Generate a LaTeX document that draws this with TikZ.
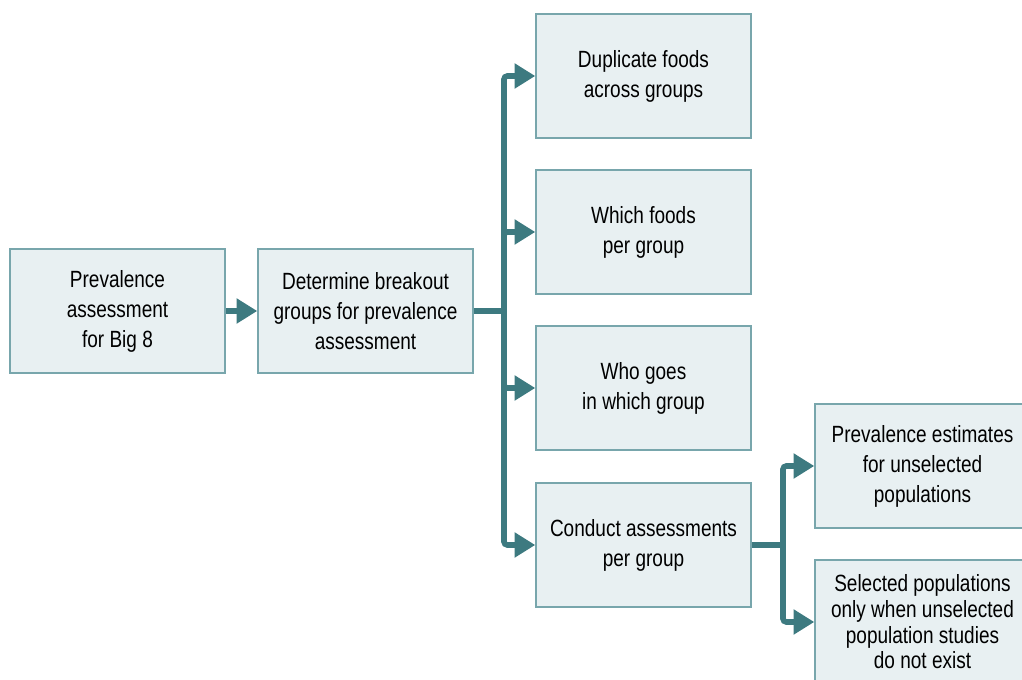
\documentclass[tikz,border=0pt]{standalone}
\usepackage{fontspec}
\setmainfont[FakeStretch=0.81]{Liberation Sans}
\usetikzlibrary{arrows.meta,positioning}
\definecolor{boxfill}{HTML}{E8F0F2}
\definecolor{boxline}{HTML}{78A6AC}
\definecolor{arrowc}{HTML}{3D7A80}
\begin{document}
\begin{tikzpicture}[x=0.75pt,y=-0.75pt,
  box/.style={draw=boxline,line width=1.1pt,fill=boxfill,minimum width=161.25pt,minimum height=93pt,
    align=center,inner sep=2pt,font=\fontsize{17.6pt}{22.5pt}\selectfont},
  conn/.style={draw=arrowc,line width=4.2pt,rounded corners=2.5pt},
  arr/.style={conn,-{Triangle[length=15.5pt,width=18pt]}}]
\useasboundingbox (0,0) rectangle (1022,680);
\clip (0,0) rectangle (1022,680);
\node[box] (b1) at (117.5,311) {Prevalence\\assessment\\for Big 8};
\node[box] (b2) at (365.5,311) {Determine breakout\\groups for prevalence\\assessment};
\node[box] (a) at (643.5,76) {Duplicate foods\\across groups};
\node[box] (b) at (643.5,232) {Which foods\\per group};
\node[box] (c) at (643.5,388) {Who goes\\in which group};
\node[box] (d) at (643.5,545) {Conduct assessments\\per group};
\node[box] (e) at (922.5,466) {Prevalence estimates\\for unselected\\populations};
\node[box,font=\fontsize{17.6pt}{19.3pt}\selectfont] (f) at (922.5,622) {Selected populations\\only when unselected\\population studies\\do not exist};
\coordinate (j1) at (504,311);
\coordinate (j2) at (783,545);
\draw[arr] (b1.east) -- (b2.west);
\draw[conn] (b2.east) -- (j1);
\foreach \t in {a,b,c,d} \draw[arr] (j1) |- (\t.west);
\draw[conn] (d.east) -- (j2);
\foreach \t in {e,f} \draw[arr] (j2) |- (\t.west);
\end{tikzpicture}
\end{document}
